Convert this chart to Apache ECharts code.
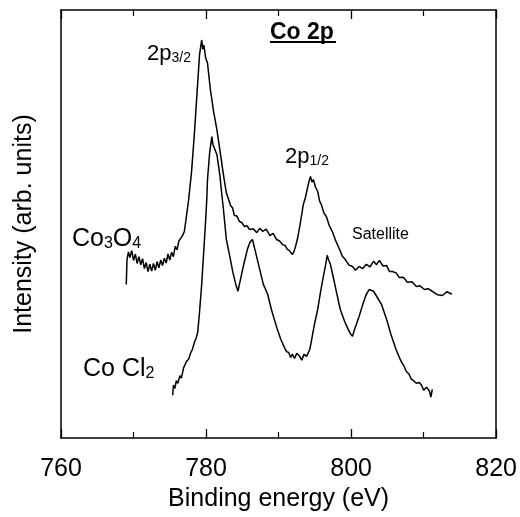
<!DOCTYPE html>
<html><head><meta charset="utf-8">
<script src="https://cdn.jsdelivr.net/npm/echarts@6/dist/echarts.min.js"></script>
<style>html,body{margin:0;padding:0;background:#fff}#c{width:520px;height:517px}</style>
</head><body><div id="c"></div>
<script>
// Binding energy (eV) axis ticks
const xTicks = [760, 780, 800, 820];
const minorStep = 10;
// Co3O4 spectrum: [binding energy (eV), intensity (arb. units)]
const co3o4 = [[769.0,35.9],[769.1,41.7],[769.3,43.5],[769.5,42.2],[769.75,43.8],[770.0,41.5],[770.25,43.0],[770.5,40.8],[770.75,42.4],[771.0,40.5],[771.25,41.9],[771.5,39.6],[771.75,41.0],[772.0,38.9],[772.25,40.6],[772.5,39.0],[772.75,40.8],[773.0,39.2],[773.25,41.2],[773.5,39.8],[773.75,41.6],[774.0,40.3],[774.25,42.0],[774.5,40.9],[774.75,43.0],[775.0,41.6],[775.25,43.4],[775.5,42.4],[775.75,44.8],[776.0,44.0],[776.25,46.0],[776.5,45.6],[776.75,47.3],[777.0,48.2],[777.2,50.6],[777.6,55.7],[778.0,62.2],[778.4,71.3],[778.85,83.0],[779.1,89.5],[779.4,93.0],[779.55,90.8],[779.7,91.8],[779.95,88.8],[780.2,87.6],[780.6,81.4],[781.05,76.2],[781.5,72.0],[781.9,67.4],[782.4,61.5],[782.8,57.3],[783.1,55.8],[783.4,54.3],[783.65,53.8],[783.9,52.0],[784.25,51.9],[784.6,50.6],[784.95,50.3],[785.3,49.4],[785.65,49.6],[786.0,48.7],[786.5,48.9],[787.0,48.0],[787.4,49.0],[787.8,48.3],[788.3,48.8],[788.8,47.3],[789.25,47.8],[789.7,46.4],[790.1,46.1],[790.55,45.2],[790.9,45.0],[791.2,44.1],[791.5,43.8],[791.9,42.9],[792.1,43.5],[792.3,44.5],[792.6,46.5],[792.9,49.2],[793.15,51.8],[793.4,54.5],[793.7,56.2],[794.0,58.5],[794.2,60.0],[794.4,61.1],[794.6,59.8],[794.8,60.4],[795.1,58.6],[795.4,57.6],[795.65,55.4],[795.9,54.5],[796.25,52.6],[796.6,51.7],[797.0,49.6],[797.4,48.3],[797.9,46.0],[798.4,44.1],[798.8,42.5],[799.2,41.7],[799.7,40.4],[800.2,40.1],[800.6,39.2],[801.1,40.1],[801.6,39.6],[802.1,40.6],[802.6,40.0],[803.1,41.3],[803.5,40.5],[803.9,41.5],[804.4,40.2],[804.9,40.3],[805.3,38.9],[805.7,38.9],[806.2,38.6],[806.65,37.5],[807.2,37.6],[807.75,36.4],[808.4,36.5],[809.0,35.4],[809.5,35.6],[810.1,34.7],[810.6,34.9],[811.2,34.3],[811.9,33.5],[812.6,33.3],[813.2,34.2],[813.9,33.6]];
// CoCl2 spectrum: [binding energy (eV), intensity (arb. units)]
const cocl2 = [[775.4,10.0],[775.5,12.4],[775.7,11.6],[775.9,13.4],[776.1,12.8],[776.4,14.6],[776.6,14.0],[776.9,16.4],[777.1,16.0],[777.3,17.9],[777.6,18.4],[777.9,20.0],[778.1,20.6],[778.4,22.4],[778.6,23.2],[778.85,24.7],[779.1,29.4],[779.4,35.9],[779.7,44.1],[779.95,51.0],[780.1,55.7],[780.2,60.4],[780.5,66.7],[780.8,70.4],[780.95,68.6],[781.05,69.0],[781.5,66.2],[781.9,61.5],[782.15,57.3],[782.4,53.4],[782.8,46.4],[783.3,42.2],[783.7,38.7],[784.1,35.9],[784.4,34.3],[784.6,35.9],[785.2,40.6],[785.7,44.1],[786.1,45.9],[786.4,46.4],[786.8,43.6],[787.4,39.4],[787.9,35.9],[788.5,33.6],[789.0,30.1],[789.7,26.1],[790.3,23.1],[790.8,21.2],[791.1,20.2],[791.4,20.0],[791.65,18.8],[791.9,19.6],[792.2,18.6],[792.5,19.8],[792.9,19.1],[793.2,18.2],[793.5,19.6],[793.85,19.1],[794.1,19.5],[794.3,20.7],[794.5,22.4],[794.95,26.6],[795.4,30.1],[795.8,34.3],[796.1,37.1],[796.5,40.6],[796.7,42.7],[796.9,41.6],[797.15,40.6],[797.6,37.1],[798.0,34.0],[798.5,30.1],[799.1,27.3],[799.6,25.4],[799.9,24.4],[800.2,23.8],[800.4,25.0],[800.6,25.4],[801.1,28.4],[801.7,31.7],[802.1,33.6],[802.5,34.7],[803.1,34.3],[803.6,32.9],[804.2,31.2],[804.9,27.7],[805.5,24.2],[806.2,20.7],[806.9,17.9],[807.3,16.8],[807.6,15.6],[808.0,14.9],[808.3,13.8],[808.7,13.3],[809.0,12.8],[809.4,13.0],[809.7,12.4],[810.0,11.2],[810.4,11.9],[810.8,11.0],[811.0,9.6],[811.2,11.4]];
const yRange = [0, 100];

const FONT = '"Liberation Sans", Arial, sans-serif';
const chart = echarts.init(document.getElementById('c'), null, {renderer: 'canvas'});
const LINE = {show: true, onZero: false, lineStyle: {color: '#000', width: 1.5}};

const option = {
  animation: false,
  backgroundColor: '#fff',
  grid: {left: 61, right: 23, top: 10, bottom: 78, show: false},
  xAxis: [
    {type: 'value', min: xTicks[0], max: xTicks[xTicks.length - 1], interval: xTicks[1] - xTicks[0],
     position: 'bottom',
     name: 'Binding energy (eV)', nameLocation: 'middle', nameGap: 48,
     nameTextStyle: {fontSize: 25, color: '#000', fontFamily: FONT},
     axisLabel: {fontSize: 25, color: '#000', margin: 19, fontFamily: FONT},
     axisLine: LINE,
     axisTick: {show: true, inside: true, length: 9, lineStyle: {color: '#000', width: 1.3}},
     minorTick: {show: true, splitNumber: (xTicks[1] - xTicks[0]) / minorStep, length: 6, lineStyle: {color: '#000', width: 1.2}},
     splitLine: {show: false}, minorSplitLine: {show: false}},
    {type: 'value', min: xTicks[0], max: xTicks[xTicks.length - 1], interval: xTicks[1] - xTicks[0],
     position: 'top',
     axisLabel: {show: false},
     axisLine: LINE,
     axisTick: {show: true, inside: false, length: -9, lineStyle: {color: '#000', width: 1.3}},
     minorTick: {show: true, splitNumber: (xTicks[1] - xTicks[0]) / minorStep, length: -6, lineStyle: {color: '#000', width: 1.2}},
     splitLine: {show: false}, minorSplitLine: {show: false}}
  ],
  yAxis: [
    {type: 'value', min: yRange[0], max: yRange[1], position: 'left',
     name: 'Intensity (arb. units)', nameLocation: 'middle', nameGap: 24,
     nameTextStyle: {fontSize: 25, color: '#000', fontFamily: FONT},
     axisLine: LINE,
     axisTick: {show: false}, axisLabel: {show: false}, splitLine: {show: false}},
    {type: 'value', min: yRange[0], max: yRange[1], position: 'right',
     axisLine: LINE,
     axisTick: {show: false}, axisLabel: {show: false}, splitLine: {show: false}}
  ],
  series: [
    {name: 'Co3O4', type: 'line', data: co3o4, showSymbol: false, symbol: 'none',
     lineStyle: {color: '#000', width: 1.5}, xAxisIndex: 0, yAxisIndex: 0},
    {name: 'CoCl2', type: 'line', data: cocl2, showSymbol: false, symbol: 'none',
     lineStyle: {color: '#000', width: 1.5}, xAxisIndex: 1, yAxisIndex: 1}
  ],
  graphic: [
    {type: 'text', x: 270, y: 21, style: {text: 'Co 2p', font: 'bold 23px ' + FONT, fill: '#000'}},
    {type: 'line', shape: {x1: 270, y1: 42, x2: 336, y2: 42}, style: {stroke: '#000', lineWidth: 2}},
    {type: 'text', x: 147, y: 43, style: {text: '{a|2p}{b|3/2}', fill: '#000',
      rich: {a: {fontSize: 22, fontFamily: FONT, fill: '#000'}, b: {fontSize: 14, fontFamily: FONT, fill: '#000', verticalAlign: 'bottom', lineHeight: 10}}}},
    {type: 'text', x: 285, y: 146, style: {text: '{a|2p}{b|1/2}', fill: '#000',
      rich: {a: {fontSize: 22, fontFamily: FONT, fill: '#000'}, b: {fontSize: 14, fontFamily: FONT, fill: '#000', verticalAlign: 'bottom', lineHeight: 10}}}},
    {type: 'text', x: 352, y: 227, style: {text: 'Satellite', font: '16px ' + FONT, fill: '#000'}},
    {type: 'text', x: 72, y: 227, style: {text: '{a|Co}{s|3}{a|O}{s|4}', fill: '#000',
      rich: {a: {fontSize: 25, fontFamily: FONT, fill: '#000'}, s: {fontSize: 16, fontFamily: FONT, fill: '#000', verticalAlign: 'bottom', lineHeight: 6}}}},
    {type: 'text', x: 83, y: 357, style: {text: '{a|Co Cl}{s|2}', fill: '#000',
      rich: {a: {fontSize: 25, fontFamily: FONT, fill: '#000'}, s: {fontSize: 16, fontFamily: FONT, fill: '#000', verticalAlign: 'bottom', lineHeight: 6}}}}
  ]
};
chart.setOption(option);
</script>
</body></html>
